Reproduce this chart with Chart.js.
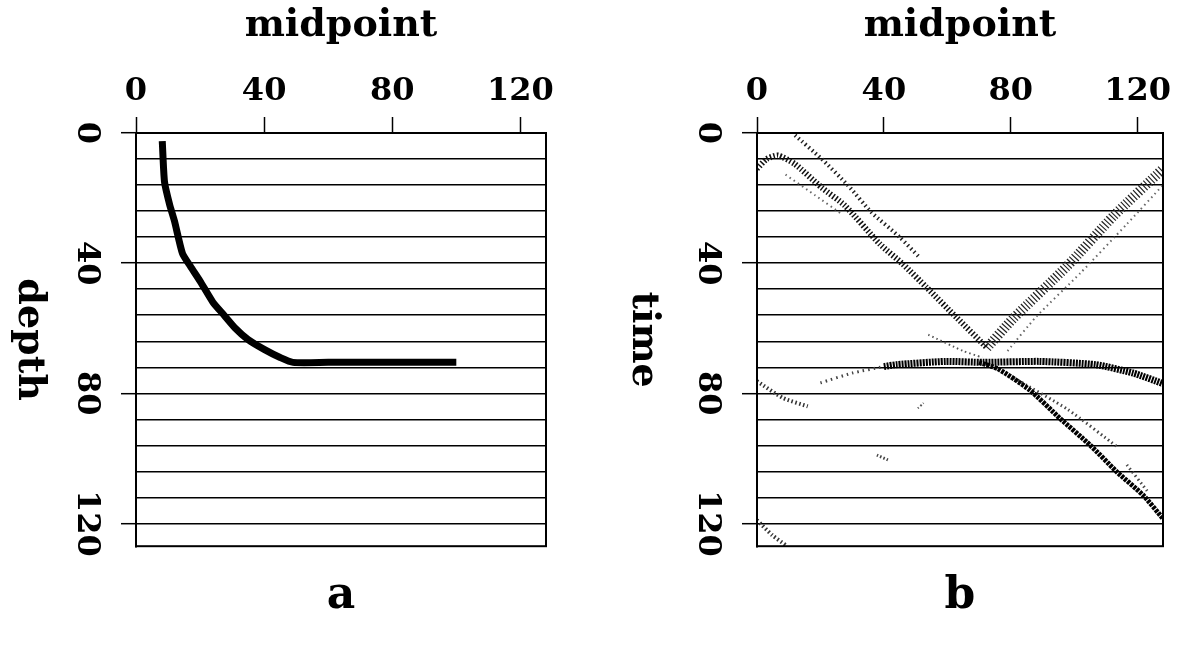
<!DOCTYPE html>
<html>
<head>
<meta charset="utf-8">
<script src="https://cdn.jsdelivr.net/npm/chart.js@4.4.1/dist/chart.umd.min.js"></script>
<style>
  html, body { margin: 0; padding: 0; background: #fff; }
  body { width: 1179px; height: 645px; position: relative; overflow: hidden; }
  .panel { position: absolute; top: 0; height: 645px; }
  #panel-a { left: 0; width: 590px; }
  #panel-b { left: 590px; width: 589px; }
</style>
</head>
<body>
<div class="panel" id="panel-a"><canvas id="chart-a"></canvas></div>
<div class="panel" id="panel-b"><canvas id="chart-b"></canvas></div>
<script>
// axis ranges and tick labels
const midpointMax = 128;
const verticalMax = 127;
const majorStep = 40; // labelled ticks: 0, 40, 80, 120
const gridStep = 8;   // horizontal grid lines

// panel a: reflector depth vs midpoint
const depthX = [8.2, 8.9, 10.5, 12, 14.5, 17, 20, 24, 27.5, 31, 35, 40, 45, 49, 60, 80, 100];
const depthY = [2.5, 15, 22, 27, 37, 41, 45.5, 52, 56, 60, 63.5, 66.5, 69, 70.5, 70.5, 70.5, 70.5];

// panel b: events in time vs midpoint
const sparseX = [12, 20.3, 28.7, 36.1, 45, 51];
const sparseY = [0.7, 7.9, 16.1, 24.4, 32, 38];
const humpX = [0, 3, 6.6, 11.9, 20.3, 27.7, 38.7, 46, 53.5, 63, 72.5];
const humpY = [11, 8, 6.9, 9.5, 16.7, 22.3, 34.1, 40.3, 47.5, 56.8, 66];
const humpFaintX = [9, 18.4, 26.7];
const humpFaintY = [12.8, 19.2, 24.9];
const riseX = [72.5, 80.8, 97.7, 112.4, 128];
const riseY = [66, 57, 41, 25.5, 11];
const riseFaintX = [79, 88, 102, 116.6, 128];
const riseFaintY = [67, 56.5, 43, 28, 16];
const flatFaintX = [20, 30, 40];
const flatFaintY = [76.8, 73.8, 71.8];
const flatX = [40, 44, 59.5, 71.4, 89, 106.8, 118.6, 128];
const flatY = [71.8, 71.2, 70.2, 70.5, 70.2, 71.2, 73.8, 77];
const dropX = [70, 76, 86, 95.5, 105, 113.4, 121.7, 128];
const dropY = [70.5, 72.5, 79, 87.7, 95.9, 104.1, 111.3, 118.5];
const dropFaintX = [81, 98, 113.5];
const dropFaintY = [75.3, 85, 96.4];
const dropFaint2X = [116.6, 123];
const dropFaint2Y = [102, 110];
const tailX = [54, 65, 71];
const tailY = [62, 67, 69];
const leftLowX = [0, 8.3, 16];
const leftLowY = [76.3, 81.5, 84];
const cornerX = [0, 4.8, 9.5];
const cornerY = [119, 123.6, 127];
const bitX = [37.8, 41.3];
const bitY = [99, 100.5];
const bit2X = [50.7, 52.5];
const bit2Y = [84.6, 83];

const serif = "'DejaVu Serif', serif";
const tickFont = { family: serif, size: 32, weight: "bold" };
const titleFont = { family: serif, size: 38, weight: "bold", lineHeight: 1 };
const letterFont = { family: serif, size: 44, weight: "bold" };

function pts(xs, ys) {
  return xs.map((x, i) => ({ x: x, y: ys[i] }));
}

// a line of short hatch marks, like the plotted traces
function trace(xs, ys, color, width, dash) {
  return {
    data: pts(xs, ys),
    showLine: true,
    borderColor: color,
    borderWidth: width,
    borderDash: dash,
    borderCapStyle: "butt",
    pointRadius: 0,
    tension: 0.2
  };
}

// y title reads top to bottom, so it is drawn here
const sideTitle = {
  id: "sideTitle",
  afterDraw(chart, args, opts) {
    const { ctx, chartArea } = chart;
    ctx.save();
    ctx.translate(chartArea.left - opts.offset, (chartArea.top + chartArea.bottom) / 2);
    ctx.rotate(Math.PI / 2);
    ctx.font = "bold 38px " + serif;
    ctx.fillStyle = "#000";
    ctx.textAlign = "center";
    ctx.textBaseline = "middle";
    ctx.fillText(opts.text, 0, 0);
    ctx.restore();
  }
};

// box round the plot
const frame = {
  id: "frame",
  afterDatasetsDraw(chart) {
    const { ctx, chartArea } = chart;
    ctx.save();
    ctx.strokeStyle = "#000";
    ctx.lineWidth = 2;
    ctx.strokeRect(chartArea.left, chartArea.top, chartArea.right - chartArea.left, chartArea.bottom - chartArea.top);
    ctx.restore();
  }
};

function makeOptions(yTitle, letter, titleOffset, yWidth, padRight) {
  return {
    responsive: true,
    maintainAspectRatio: false,
    animation: false,
    devicePixelRatio: 1,
    layout: { padding: { left: 0, right: padRight, top: 0, bottom: 0 } },
    scales: {
      x: {
        type: "linear",
        position: "top",
        min: 0,
        max: midpointMax,
        ticks: {
          stepSize: majorStep,
          includeBounds: false,
          maxRotation: 0,
          padding: 6,
          color: "#000",
          font: tickFont
        },
        grid: { drawOnChartArea: false, tickLength: 16, tickColor: "#000", tickWidth: 1.5 },
        border: { display: true, color: "#000", width: 2 },
        title: { display: true, text: "midpoint", color: "#000", font: titleFont, padding: { top: 7, bottom: 0 } },
        afterFit: (s) => {
          s.height = 133;
          s.paddingLeft = 0;
          s.paddingRight = 0;
        }
      },
      y: {
        type: "linear",
        position: "left",
        reverse: true,
        min: 0,
        max: verticalMax,
        ticks: {
          stepSize: gridStep,
          includeBounds: false,
          autoSkip: false,
          minRotation: -90,
          maxRotation: -90,
          crossAlign: "center",
          padding: 1,
          color: "#000",
          font: tickFont,
          callback: (v) => (v % majorStep === 0 ? v : "")
        },
        grid: {
          color: "#000",
          lineWidth: 1.4,
          tickLength: 15,
          tickWidth: 1.5,
          tickColor: (ctx) => (ctx.tick && ctx.tick.value % majorStep === 0 ? "#000" : "rgba(0,0,0,0)")
        },
        border: { display: true, color: "#000", width: 2 },
        afterFit: (s) => {
          s.width = yWidth;
          s.paddingTop = 0;
          s.paddingBottom = 0;
        }
      }
    },
    plugins: {
      legend: { display: false },
      tooltip: { enabled: false },
      title: {
        display: true,
        text: letter,
        position: "bottom",
        fullSize: false,
        color: "#000",
        font: letterFont,
        padding: { top: 24, bottom: 22 }
      },
      sideTitle: { text: yTitle, offset: titleOffset }
    }
  };
}

new Chart(document.getElementById("chart-a"), {
  type: "scatter",
  data: {
    datasets: [trace(depthX, depthY, "#000", 7, [])]
  },
  options: makeOptions("depth", "a", 107, 136, 44),
  plugins: [sideTitle, frame]
});

new Chart(document.getElementById("chart-b"), {
  type: "scatter",
  data: {
    datasets: [
      trace(sparseX, sparseY, "#222", 4, [1.5, 3]),
      trace(humpX, humpY, "#111", 6, [1.5, 2]),
      trace(humpFaintX, humpFaintY, "#666", 2, [1.5, 3.5]),
      trace(riseX, riseY, "#222", 10, [1.2, 2.2]),
      trace(riseFaintX, riseFaintY, "#666", 2, [1.5, 3.5]),
      trace(flatFaintX, flatFaintY, "#444", 3, [1.5, 4]),
      trace(flatX, flatY, "#000", 7, [2, 1]),
      trace(dropX, dropY, "#000", 5, [3, 1]),
      trace(dropFaintX, dropFaintY, "#444", 3, [1.5, 3]),
      trace(dropFaint2X, dropFaint2Y, "#444", 3, [1.5, 3]),
      trace(tailX, tailY, "#555", 2, [1.5, 3]),
      trace(leftLowX, leftLowY, "#333", 4, [1.5, 2.5]),
      trace(cornerX, cornerY, "#333", 4, [1.5, 2.5]),
      trace(bitX, bitY, "#444", 3, [1.5, 2]),
      trace(bit2X, bit2Y, "#555", 2, [1.5, 2])
    ]
  },
  options: makeOptions("time", "b", 114, 167, 16),
  plugins: [sideTitle, frame]
});
</script>
</body>
</html>
